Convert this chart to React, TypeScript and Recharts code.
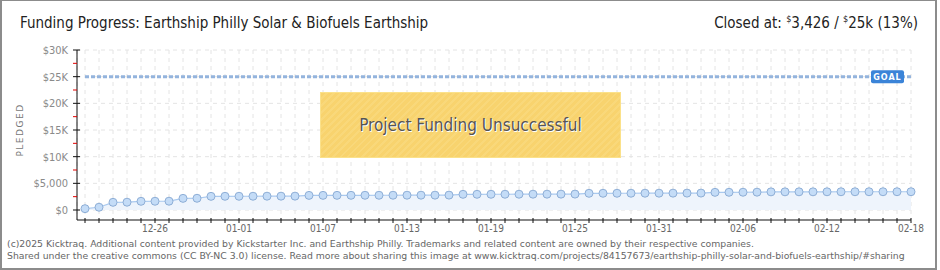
import { Area, CartesianGrid, ComposedChart, ReferenceLine, XAxis, YAxis } from 'recharts'

const dates = [
	'12-21', '12-22', '12-23', '12-24', '12-25', '12-26', '12-27', '12-28', '12-29', '12-30', '12-31',
	'01-01', '01-02', '01-03', '01-04', '01-05', '01-06', '01-07', '01-08', '01-09', '01-10',
	'01-11', '01-12', '01-13', '01-14', '01-15', '01-16', '01-17', '01-18', '01-19', '01-20',
	'01-21', '01-22', '01-23', '01-24', '01-25', '01-26', '01-27', '01-28', '01-29', '01-30', '01-31',
	'02-01', '02-02', '02-03', '02-04', '02-05', '02-06', '02-07', '02-08', '02-09', '02-10',
	'02-11', '02-12', '02-13', '02-14', '02-15', '02-16', '02-17', '02-18',
]

const pledged = [
	250, 520, 1440, 1460, 1630, 1640, 1650, 2180, 2200, 2560,
	2570, 2575, 2580, 2590, 2595, 2600, 2740, 2745, 2750, 2755,
	2760, 2765, 2770, 2775, 2780, 2785, 2790, 2940, 2945, 2950,
	2955, 2960, 2965, 2970, 2975, 2980, 3130, 3135, 3140, 3145,
	3150, 3155, 3160, 3165, 3170, 3310, 3320, 3330, 3340, 3400,
	3405, 3410, 3410, 3415, 3420, 3420, 3422, 3424, 3425, 3426,
]

const xTickLabels = ['12-26', '01-01', '01-07', '01-13', '01-19', '01-25', '01-31', '02-06', '02-12', '02-18']

const yTicks = [0, 2500, 5000, 7500, 10000, 12500, 15000, 17500, 20000, 22500, 25000, 27500, 30000]
const yMajor = [0, 5000, 10000, 15000, 20000, 25000, 30000]
const yLabels: Record<number, string> = {
	0: '$0',
	5000: '$5,000',
	10000: '$10K',
	15000: '$15K',
	20000: '$20K',
	25000: '$25K',
	30000: '$30K',
}

const yDomain: [number, number] = [-1875, 30000]
const goal = 25000

const data = dates.map((date, i) => ({ date, pledged: pledged[i] }))

const YTick = ({ x, y, payload }: any) => {
	const major = payload.value % 5000 === 0
	const ax = x + 9
	return (
		<g>
			<line
				x1={ax - 4}
				x2={major ? ax + 3 : ax}
				y1={y}
				y2={y}
				stroke={major ? '#111' : '#e00000'}
			/>
			{major && (
				<text
					x={x}
					y={y}
					dy={4}
					textAnchor='end'
					style={{ fontSize: 11, fill: '#8a8a8a', fontFamily: 'DejaVu Sans Condensed' }}
				>
					{yLabels[payload.value]}
				</text>
			)}
		</g>
	)
}

const XTick = ({ x, y, payload }: any) => {
	const ay = y - 6
	const show = xTickLabels.includes(payload.value)
	return (
		<g>
			<line x1={x} x2={x} y1={ay - 2} y2={ay + 3} stroke='#111' />
			{show && (
				<text
					x={x}
					y={ay + 5}
					dy='0.71em'
					textAnchor='middle'
					style={{ fontSize: 10, fill: '#666', fontFamily: 'DejaVu Sans Condensed' }}
				>
					{payload.value}
				</text>
			)}
		</g>
	)
}

const GoalLabel = ({ viewBox }: any) => {
	const right = viewBox.x + viewBox.width
	const cy = viewBox.y
	return (
		<g>
			<rect x={right - 40} y={cy - 6.5} width={33} height={13} rx={2} fill='#3b84d8' />
			<text
				x={right - 23.5}
				y={cy}
				dy={3}
				textAnchor='middle'
				style={{ fontSize: 8, fill: '#fff', fontWeight: 700, letterSpacing: 1, fontFamily: 'DejaVu Sans' }}
			>
				GOAL
			</text>
		</g>
	)
}

// grid only on the $5K steps, minor ticks stay off the grid
const gridRows = ({ offset }: any) =>
	yMajor.map(v => offset.top + (offset.height * (yDomain[1] - v)) / (yDomain[1] - yDomain[0]))

export default function App() {
	return (
		<div style={{ position: 'relative', width: 940, height: 270, background: '#fff', overflow: 'hidden' }}>
			<style>{'body{margin:0}'}</style>

			<ComposedChart
				width={940}
				height={270}
				data={data}
				margin={{ top: 50, right: 29, bottom: 20, left: 17 }}
				style={{ position: 'absolute', left: 0, top: 0 }}
			>
				<CartesianGrid
					stroke='#e4e4e4'
					strokeDasharray='4 4'
					horizontalCoordinatesGenerator={gridRows}
				/>
				<XAxis
					dataKey='date'
					scale='point'
					padding={{ left: 8, right: 0 }}
					interval={0}
					height={30}
					tickSize={3}
					tickMargin={3}
					tickLine={false}
					tick={<XTick />}
					axisLine={{ stroke: '#111' }}
				/>
				<YAxis
					type='number'
					domain={yDomain}
					ticks={yTicks}
					interval={0}
					width={60}
					tickSize={4}
					tickMargin={5}
					tickLine={false}
					tick={<YTick />}
					axisLine={{ stroke: '#111' }}
				/>
				<Area
					type='linear'
					dataKey='pledged'
					stroke='#a9c9ef'
					strokeWidth={1.2}
					fill='#eef4fc'
					fillOpacity={1}
					dot={{ r: 4, fill: '#c4dcf7', stroke: '#8eaed6', strokeWidth: 1 }}
					activeDot={false}
					isAnimationActive={false}
				/>
				<ReferenceLine
					segment={[
						{ x: dates[0], y: goal },
						{ x: dates[dates.length - 1], y: goal },
					]}
					stroke='#94b4dd'
					strokeWidth={3}
					strokeDasharray='4 2'
					ifOverflow='visible'
					label={<GoalLabel />}
				/>
			</ComposedChart>

			<div
				style={{
					position: 'absolute',
					left: 320,
					top: 92,
					width: 301,
					height: 66,
					boxSizing: 'border-box',
					border: '1px solid #fbe18a',
					background:
						'repeating-linear-gradient(135deg, #f8d36e 0px, #f8d36e 3px, #f9d87a 3px, #f9d87a 5px)',
					display: 'flex',
					alignItems: 'center',
					justifyContent: 'center',
					fontFamily: 'DejaVu Sans Condensed',
					fontSize: 17,
					color: '#555',
					textShadow: '1px 1px 0 #fff',
				}}
			>
				Project Funding Unsuccessful
			</div>

			<div
				style={{
					position: 'absolute',
					left: 20,
					top: 14,
					fontFamily: 'DejaVu Sans Condensed',
					fontSize: 15,
					color: '#222',
					whiteSpace: 'nowrap',
				}}
			>
				Funding Progress: Earthship Philly Solar &amp; Biofuels Earthship
			</div>

			<div
				style={{
					position: 'absolute',
					right: 22,
					top: 14,
					fontFamily: 'DejaVu Sans Condensed',
					fontSize: 15,
					color: '#222',
					whiteSpace: 'nowrap',
				}}
			>
				Closed at: <sup style={{ fontSize: 9 }}>$</sup>3,426 / <sup style={{ fontSize: 9 }}>$</sup>25k (13%)
			</div>

			<div
				style={{
					position: 'absolute',
					left: 20,
					top: 130,
					transform: 'translate(-50%, -50%) rotate(-90deg)',
					fontFamily: 'DejaVu Sans',
					fontSize: 9,
					letterSpacing: 1.5,
					color: '#777',
					whiteSpace: 'nowrap',
				}}
			>
				PLEDGED
			</div>

			<div
				style={{
					position: 'absolute',
					left: 7,
					top: 238,
					fontFamily: 'DejaVu Sans',
					fontSize: 9.3,
					lineHeight: '12px',
					color: '#666',
					whiteSpace: 'nowrap',
				}}
			>
				(c)2025 Kicktraq. Additional content provided by Kickstarter Inc. and Earthship Philly. Trademarks and related content are owned by their respective companies.
				<br />
				Shared under the creative commons (CC BY-NC 3.0) license. Read more about sharing this image at www.kicktraq.com/projects/84157673/earthship-philly-solar-and-biofuels-earthship/#sharing
			</div>

			<div
				style={{
					position: 'absolute',
					left: 0,
					top: 0,
					width: 937,
					height: 270,
					boxSizing: 'border-box',
					borderStyle: 'solid',
					borderColor: '#8c8c8c',
					borderWidth: '1px 2px 2px 2px',
					pointerEvents: 'none',
				}}
			/>
		</div>
	)
}
